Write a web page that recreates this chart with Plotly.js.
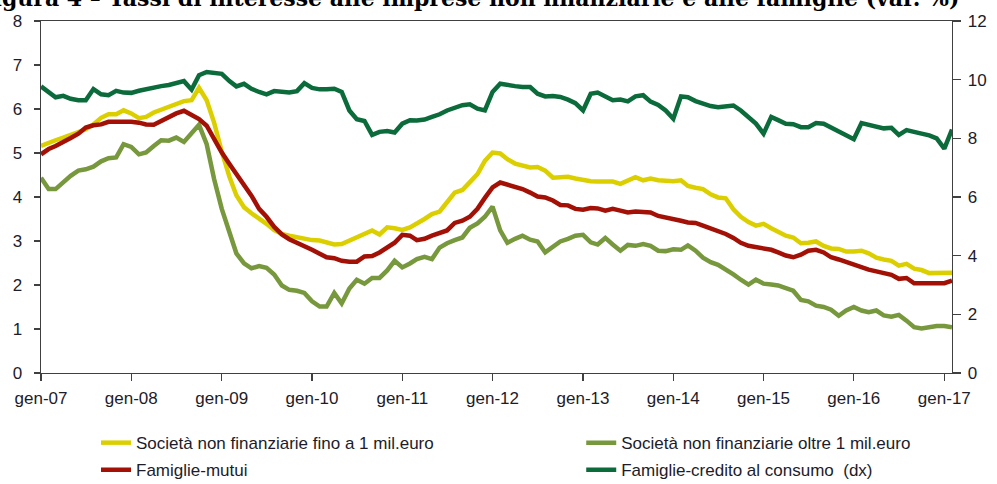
<!DOCTYPE html>
<html>
<head>
<meta charset="utf-8">
<script src="https://cdn.plot.ly/plotly-3.0.1.min.js"></script>
<style>html,body{margin:0;padding:0;background:#fff;}#chart{width:997px;height:484px;}</style>
</head>
<body>
<div id="chart"></div>
<script>
// Monthly observations: January 2007 to February 2017
var startYear = 2007, startMonth = 1, nMonths = 122;
var months = [];
for (var i = 0; i < nMonths; i++) {
  var y = startYear + Math.floor((startMonth - 1 + i) / 12);
  var m = (startMonth - 1 + i) % 12 + 1;
  months.push(y + '-' + (m < 10 ? '0' + m : m) + '-01');
}

var tickDates = ['2007-01-01','2008-01-01','2009-01-01','2010-01-01','2011-01-01','2012-01-01','2013-01-01','2014-01-01','2015-01-01','2016-01-01','2017-01-01'];
var tickLabels = ['gen-07','gen-08','gen-09','gen-10','gen-11','gen-12','gen-13','gen-14','gen-15','gen-16','gen-17'];

var seriesNames = [
  'Società non finanziarie fino a 1 mil.euro',
  'Società non finanziarie oltre 1 mil.euro',
  'Famiglie-mutui',
  'Famiglie-credito al consumo  (dx)'
];

var snfSmall = [
  5.16,5.24,5.29,5.35,5.41,5.47,5.54,5.65,5.80,5.88,5.88,5.97,
  5.90,5.79,5.82,5.92,5.99,6.05,6.12,6.18,6.20,6.48,6.20,5.69,
  5.03,4.46,4.04,3.77,3.63,3.52,3.39,3.25,3.16,3.12,3.08,3.06,
  3.02,3.01,2.96,2.92,2.93,3.01,3.08,3.16,3.24,3.15,3.31,3.29,
  3.25,3.31,3.39,3.50,3.61,3.67,3.88,4.10,4.16,4.33,4.52,4.82,
  5.01,4.99,4.86,4.76,4.72,4.67,4.68,4.60,4.44,4.46,4.46,4.42,
  4.38,4.36,4.35,4.35,4.35,4.30,4.38,4.45,4.38,4.42,4.38,4.36,
  4.36,4.38,4.25,4.21,4.18,4.06,3.99,3.97,3.72,3.55,3.43,3.35,
  3.39,3.29,3.20,3.12,3.08,2.95,2.96,2.99,2.89,2.83,2.82,2.76,
  2.76,2.78,2.72,2.62,2.58,2.55,2.44,2.48,2.37,2.34,2.27,2.28,
  2.28,2.28
];

var snfLarge = [
  4.44,4.18,4.18,4.35,4.48,4.60,4.63,4.69,4.81,4.88,4.90,5.20,
  5.14,4.97,5.01,5.16,5.29,5.28,5.35,5.25,5.45,5.64,5.20,4.41,
  3.73,3.16,2.72,2.49,2.38,2.43,2.39,2.24,1.99,1.89,1.87,1.82,
  1.63,1.51,1.51,1.82,1.58,1.92,2.12,2.03,2.16,2.16,2.33,2.55,
  2.40,2.49,2.59,2.64,2.59,2.85,2.95,3.02,3.08,3.30,3.40,3.55,
  3.78,3.24,2.96,3.05,3.12,3.03,2.99,2.74,2.86,2.99,3.05,3.12,
  3.14,2.97,2.92,3.07,2.92,2.78,2.91,2.89,2.93,2.89,2.78,2.77,
  2.81,2.80,2.90,2.78,2.62,2.52,2.46,2.36,2.24,2.12,2.01,2.12,
  2.03,2.01,1.99,1.93,1.87,1.66,1.63,1.53,1.50,1.44,1.30,1.42,
  1.50,1.42,1.38,1.42,1.31,1.28,1.32,1.19,1.04,1.01,1.04,1.07,
  1.07,1.04
];

var mortgages = [
  4.97,5.09,5.16,5.24,5.34,5.44,5.58,5.63,5.65,5.71,5.71,5.73,
  5.71,5.69,5.65,5.64,5.73,5.82,5.90,5.96,5.87,5.77,5.62,5.31,
  5.01,4.75,4.52,4.29,4.03,3.73,3.55,3.32,3.15,3.04,2.96,2.90,
  2.80,2.71,2.63,2.61,2.55,2.53,2.53,2.65,2.66,2.74,2.86,2.96,
  3.14,3.12,3.02,3.05,3.12,3.17,3.24,3.41,3.46,3.55,3.73,3.98,
  4.22,4.33,4.28,4.25,4.18,4.10,4.01,3.99,3.92,3.82,3.81,3.73,
  3.71,3.75,3.74,3.69,3.73,3.69,3.65,3.67,3.65,3.65,3.57,3.54,
  3.50,3.46,3.42,3.41,3.35,3.29,3.23,3.16,3.07,2.96,2.89,2.86,
  2.83,2.80,2.74,2.67,2.63,2.69,2.78,2.80,2.74,2.63,2.58,2.52,
  2.48,2.42,2.35,2.31,2.27,2.23,2.14,2.16,2.04,2.04,2.04,2.04,
  2.04,2.10
];

var consumerCredit = [
  9.77,9.58,9.40,9.45,9.35,9.30,9.30,9.68,9.50,9.47,9.62,9.56,
  9.55,9.62,9.68,9.75,9.78,9.82,9.88,9.95,9.66,10.15,10.26,10.24,
  10.20,9.95,9.77,9.86,9.69,9.58,9.50,9.61,9.58,9.56,9.61,9.88,
  9.72,9.67,9.67,9.69,9.58,8.95,8.65,8.59,8.12,8.22,8.25,8.20,
  8.50,8.62,8.61,8.64,8.73,8.82,8.95,9.05,9.13,9.16,9.01,8.95,
  9.58,9.86,9.81,9.78,9.75,9.75,9.52,9.43,9.44,9.41,9.32,9.20,
  8.95,9.52,9.56,9.44,9.30,9.32,9.26,9.43,9.47,9.25,9.14,8.95,
  8.67,9.43,9.40,9.27,9.18,9.10,9.06,9.10,9.12,8.95,8.72,8.50,
  8.16,8.73,8.62,8.50,8.48,8.38,8.38,8.52,8.50,8.38,8.25,8.10,
  7.97,8.52,8.46,8.38,8.34,8.36,8.12,8.28,8.20,8.16,8.10,8.00,
  7.65,8.30
];

var colors = ['#dccf00', '#77983d', '#a31005', '#0b6b3b'];

function lineTrace(name, values, color, yaxis, legendId, group) {
  return {
    type: 'scatter', mode: 'lines', name: name,
    x: months, y: values, yaxis: yaxis,
    legend: legendId, legendgroup: group,
    line: {color: color, width: 4.5, shape: 'linear'},
    hoverinfo: 'x+y+name'
  };
}

var data = [
  lineTrace(seriesNames[0], snfSmall, colors[0], 'y', 'legend', 'g1'),
  lineTrace(seriesNames[1], snfLarge, colors[1], 'y', 'legend2', 'g2'),
  lineTrace(seriesNames[2], mortgages, colors[2], 'y', 'legend', 'g3'),
  lineTrace(seriesNames[3], consumerCredit, colors[3], 'y2', 'legend2', 'g4')
];

var axisColor = '#404040';
var textColor = '#1c1c2a';
var tickFont = {family: 'Liberation Sans, Arial, sans-serif', size: 17, color: textColor};
var legendFont = {family: 'Liberation Sans, Arial, sans-serif', size: 17, color: textColor};

function legendBox(xPos) {
  return {
    orientation: 'v', x: xPos, xanchor: 'left', y: -0.148, yanchor: 'top',
    font: legendFont, bgcolor: 'rgba(0,0,0,0)', borderwidth: 0,
    tracegroupgap: 2, traceorder: 'grouped', itemwidth: 30
  };
}

var layout = {
  width: 997, height: 484,
  margin: {l: 41, r: 45, t: 21, b: 111, pad: 0, autoexpand: false},
  paper_bgcolor: '#ffffff', plot_bgcolor: '#ffffff',
  showlegend: true,
  legend: legendBox(0.0604),
  legend2: legendBox(0.593),
  xaxis: {
    type: 'date', range: ['2007-01-01', '2017-02-01'],
    tickmode: 'array', tickvals: tickDates, ticktext: tickLabels,
    ticks: 'outside', ticklen: 7, tickwidth: 1.3, tickcolor: axisColor,
    showline: true, linecolor: axisColor, linewidth: 1.3, mirror: true,
    showgrid: false, zeroline: false,
    tickfont: tickFont, ticklabelstandoff: 2, fixedrange: true
  },
  xaxis2: {
    type: 'date', range: ['2007-01-01', '2017-02-01'], overlaying: 'x', anchor: 'y',
    tickmode: 'array', tickvals: tickDates, ticktext: tickLabels.map(function(){return '';}),
    ticks: 'inside', ticklen: 7, tickwidth: 1.3, tickcolor: axisColor,
    showline: false, showgrid: false, zeroline: false, showticklabels: false
  },
  yaxis: {
    range: [0, 8], dtick: 1, tick0: 0,
    ticks: 'outside', ticklen: 6, tickwidth: 1.3, tickcolor: axisColor,
    showline: true, linecolor: axisColor, linewidth: 1.3,
    showgrid: false, zeroline: false,
    tickfont: tickFont, ticklabelstandoff: 8, fixedrange: true
  },
  yaxis2: {
    range: [0, 12], dtick: 2, tick0: 0, overlaying: 'y', side: 'right',
    ticks: 'outside', ticklen: 8, tickwidth: 1.3, tickcolor: axisColor,
    showline: true, linecolor: axisColor, linewidth: 1.3,
    showgrid: false, zeroline: false,
    tickfont: tickFont, ticklabelstandoff: 3, fixedrange: true
  },
  annotations: [{
    text: 'Figura 4 – Tassi di interesse alle imprese non finanziarie e alle famiglie (var. %)',
    xref: 'paper', yref: 'paper', x: -0.0714, y: 1.066, xanchor: 'left', yanchor: 'middle',
    showarrow: false,
    font: {family: 'DejaVu Serif, Liberation Serif, serif', size: 22, color: '#000000', weight: 'bold'}
  }]
};

Plotly.newPlot('chart', data, layout, {displayModeBar: false, staticPlot: true});
</script>
</body>
</html>
